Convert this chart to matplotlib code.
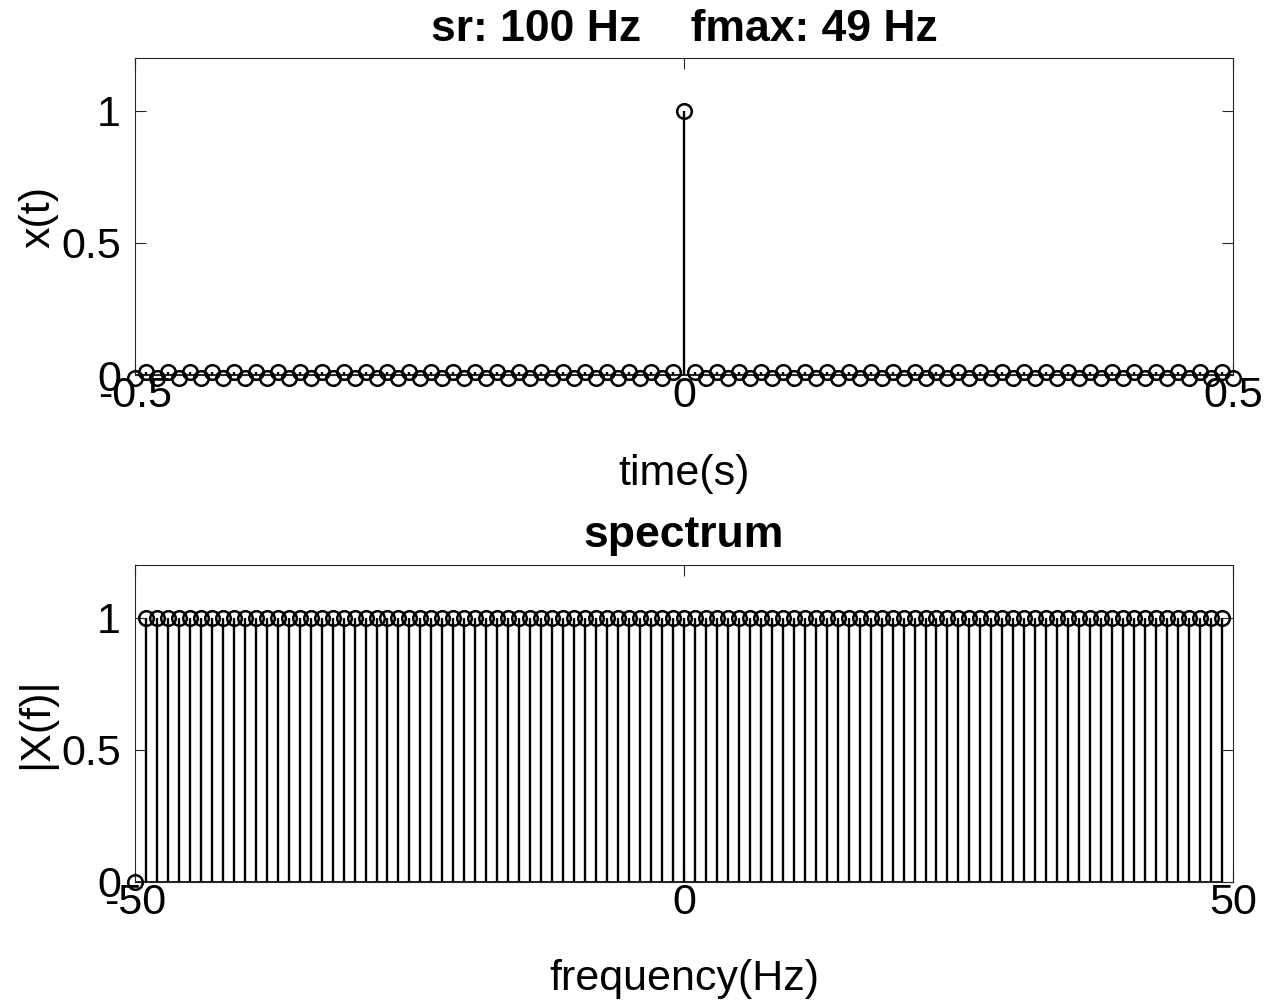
import matplotlib
matplotlib.use('Agg')
import matplotlib.pyplot as plt

plt.rcParams['font.family'] = ['Liberation Sans', 'DejaVu Sans']

# time signal, 101 samples from -0.5 s to 0.5 s
t = [-0.50, -0.49, -0.48, -0.47, -0.46, -0.45, -0.44, -0.43, -0.42, -0.41,
     -0.40, -0.39, -0.38, -0.37, -0.36, -0.35, -0.34, -0.33, -0.32, -0.31,
     -0.30, -0.29, -0.28, -0.27, -0.26, -0.25, -0.24, -0.23, -0.22, -0.21,
     -0.20, -0.19, -0.18, -0.17, -0.16, -0.15, -0.14, -0.13, -0.12, -0.11,
     -0.10, -0.09, -0.08, -0.07, -0.06, -0.05, -0.04, -0.03, -0.02, -0.01,
     0.00,
     0.01, 0.02, 0.03, 0.04, 0.05, 0.06, 0.07, 0.08, 0.09, 0.10,
     0.11, 0.12, 0.13, 0.14, 0.15, 0.16, 0.17, 0.18, 0.19, 0.20,
     0.21, 0.22, 0.23, 0.24, 0.25, 0.26, 0.27, 0.28, 0.29, 0.30,
     0.31, 0.32, 0.33, 0.34, 0.35, 0.36, 0.37, 0.38, 0.39, 0.40,
     0.41, 0.42, 0.43, 0.44, 0.45, 0.46, 0.47, 0.48, 0.49, 0.50]
x = [-0.01, 0.01, -0.01, 0.01, -0.01, 0.01, -0.01, 0.01, -0.01, 0.01,
     -0.01, 0.01, -0.01, 0.01, -0.01, 0.01, -0.01, 0.01, -0.01, 0.01,
     -0.01, 0.01, -0.01, 0.01, -0.01, 0.01, -0.01, 0.01, -0.01, 0.01,
     -0.01, 0.01, -0.01, 0.01, -0.01, 0.01, -0.01, 0.01, -0.01, 0.01,
     -0.01, 0.01, -0.01, 0.01, -0.01, 0.01, -0.01, 0.01, -0.01, 0.01,
     1.00,
     0.01, -0.01, 0.01, -0.01, 0.01, -0.01, 0.01, -0.01, 0.01, -0.01,
     0.01, -0.01, 0.01, -0.01, 0.01, -0.01, 0.01, -0.01, 0.01, -0.01,
     0.01, -0.01, 0.01, -0.01, 0.01, -0.01, 0.01, -0.01, 0.01, -0.01,
     0.01, -0.01, 0.01, -0.01, 0.01, -0.01, 0.01, -0.01, 0.01, -0.01,
     0.01, -0.01, 0.01, -0.01, 0.01, -0.01, 0.01, -0.01, 0.01, -0.01]

# spectrum, 100 bins from -50 Hz to 49 Hz
f = [-50, -49, -48, -47, -46, -45, -44, -43, -42, -41,
     -40, -39, -38, -37, -36, -35, -34, -33, -32, -31,
     -30, -29, -28, -27, -26, -25, -24, -23, -22, -21,
     -20, -19, -18, -17, -16, -15, -14, -13, -12, -11,
     -10, -9, -8, -7, -6, -5, -4, -3, -2, -1,
     0, 1, 2, 3, 4, 5, 6, 7, 8, 9,
     10, 11, 12, 13, 14, 15, 16, 17, 18, 19,
     20, 21, 22, 23, 24, 25, 26, 27, 28, 29,
     30, 31, 32, 33, 34, 35, 36, 37, 38, 39,
     40, 41, 42, 43, 44, 45, 46, 47, 48, 49]
X = [0, 1, 1, 1, 1, 1, 1, 1, 1, 1,
     1, 1, 1, 1, 1, 1, 1, 1, 1, 1,
     1, 1, 1, 1, 1, 1, 1, 1, 1, 1,
     1, 1, 1, 1, 1, 1, 1, 1, 1, 1,
     1, 1, 1, 1, 1, 1, 1, 1, 1, 1,
     1, 1, 1, 1, 1, 1, 1, 1, 1, 1,
     1, 1, 1, 1, 1, 1, 1, 1, 1, 1,
     1, 1, 1, 1, 1, 1, 1, 1, 1, 1,
     1, 1, 1, 1, 1, 1, 1, 1, 1, 1,
     1, 1, 1, 1, 1, 1, 1, 1, 1, 1]

fs = 31
axcol = '#262626'

fig = plt.figure(figsize=(12.66, 10.02), dpi=100)
ax1 = fig.add_axes([0.1066, 0.6257, 0.8673, 0.3164])
ax2 = fig.add_axes([0.1066, 0.1198, 0.8673, 0.3164])


def draw_stem(ax, xs, ys):
    m, s, b = ax.stem(xs, ys, linefmt='k-', markerfmt='ko', basefmt='k-')
    m.set_markerfacecolor('none')
    m.set_markersize(10.5)
    m.set_markeredgewidth(1.8)
    m.set_clip_on(False)
    m.set_zorder(3)
    s.set_linewidth(1.7)
    b.set_linewidth(1.2)
    b.set_zorder(1)


def style(ax):
    ax.tick_params(direction='in', length=8, width=0.8, labelsize=fs,
                   top=True, right=True, colors=axcol, labelcolor='black')
    ax.tick_params(axis='x', pad=1)
    ax.tick_params(axis='y', pad=10)
    for sp in ax.spines.values():
        sp.set_color(axcol)
        sp.set_linewidth(0.8)
        sp.set_zorder(0)


draw_stem(ax1, t, x)
ax1.set_xlim(-0.5, 0.5)
ax1.set_ylim(0, 1.2)
ax1.set_xticks([-0.5, 0, 0.5])
ax1.set_xticklabels(['-0.5', '0', '0.5'])
ax1.set_yticks([0, 0.5, 1])
ax1.set_yticklabels(['0', '0.5', '1'])
ax1.set_xlabel('time(s)', fontsize=fs, labelpad=27)
ax1.set_ylabel('x(t)', fontsize=fs, labelpad=2)
ax1.set_title('sr: 100 Hz    fmax: 49 Hz', fontsize=fs + 1, fontweight='bold',
              pad=12)
style(ax1)

draw_stem(ax2, f, X)
ax2.set_xlim(-50, 50)
ax2.set_ylim(0, 1.2)
ax2.set_xticks([-50, 0, 50])
ax2.set_xticklabels(['-50', '0', '50'])
ax2.set_yticks([0, 0.5, 1])
ax2.set_yticklabels(['0', '0.5', '1'])
ax2.set_xlabel('frequency(Hz)', fontsize=fs, labelpad=26)
ax2.set_ylabel('|X(f)|', fontsize=fs, labelpad=4)
ax2.set_title('spectrum', fontsize=fs + 1, fontweight='bold', pad=13)
style(ax2)

fig.savefig('out.png', dpi=100)
